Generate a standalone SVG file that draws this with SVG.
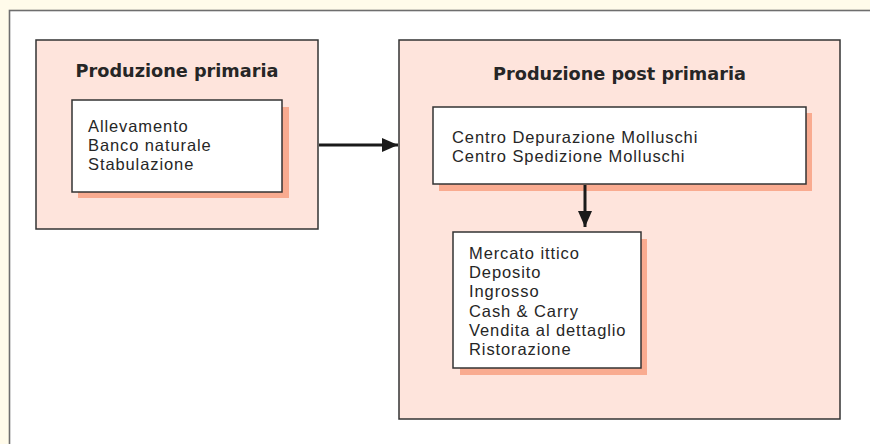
<svg xmlns="http://www.w3.org/2000/svg" width="870" height="444" viewBox="0 0 870 444">
<defs>
<style>
.outer{fill:#fee4dc;stroke:#333;stroke-width:1.5}
.inner{fill:#fff;stroke:#333;stroke-width:1.5}
.shadow{fill:#f9ab90}
.title{font-family:"DejaVu Sans",Verdana,sans-serif;font-weight:bold;font-size:17.7px;fill:#262626}
.item{font-family:"Liberation Sans",Arial,sans-serif;font-size:16.5px;letter-spacing:0.9px;fill:#262626}
.conn{stroke:#1a1a1a;stroke-width:3;fill:none}
</style>
<marker id="ah" markerWidth="16" markerHeight="14" refX="16" refY="7" orient="auto" markerUnits="userSpaceOnUse">
<path d="M0,0 L16,7 L0,14 Z" fill="#1a1a1a"/>
</marker>
</defs>
<rect x="0" y="0" width="870" height="444" fill="#fffbea"/>
<rect x="9.5" y="10.5" width="870" height="444" fill="#fff" stroke="#6e6e6e" stroke-width="1.6"/>

<g id="produzione-primaria">
<rect class="outer" x="36" y="40" width="282" height="189"/>
<text class="title" x="177" y="77" text-anchor="middle">Produzione primaria</text>
</g>
<g id="primaria-elenco">
<rect class="shadow" x="78" y="107" width="211" height="91"/>
<rect class="inner" x="72" y="100" width="210" height="92"/>
<text class="item" x="88" y="132">Allevamento</text>
<text class="item" x="88" y="151">Banco naturale</text>
<text class="item" x="88" y="170">Stabulazione</text>
</g>

<g id="produzione-post-primaria">
<rect class="outer" x="399" y="40" width="441" height="379"/>
<text class="title" x="619.5" y="80" text-anchor="middle">Produzione post primaria</text>
</g>
<g id="centri">
<rect class="shadow" x="439" y="113" width="373" height="78"/>
<rect class="inner" x="433" y="107" width="373" height="77"/>
<text class="item" x="452" y="142.5">Centro Depurazione Molluschi</text>
<text class="item" x="452" y="161.5">Centro Spedizione Molluschi</text>
</g>
<g id="distribuzione">
<rect class="shadow" x="460" y="239" width="187" height="136"/>
<rect class="inner" x="453" y="232" width="188" height="136"/>
<text class="item" x="469" y="259">Mercato ittico</text>
<text class="item" x="469" y="278">Deposito</text>
<text class="item" x="469" y="297">Ingrosso</text>
<text class="item" x="469" y="317">Cash &amp; Carry</text>
<text class="item" x="469" y="336">Vendita al dettaglio</text>
<text class="item" x="469" y="355">Ristorazione</text>
</g>

<g id="connectors">
<line class="conn" x1="319" y1="145" x2="398" y2="145" marker-end="url(#ah)"/>
<line class="conn" x1="585" y1="185" x2="585" y2="227" marker-end="url(#ah)"/>
</g>
</svg>
